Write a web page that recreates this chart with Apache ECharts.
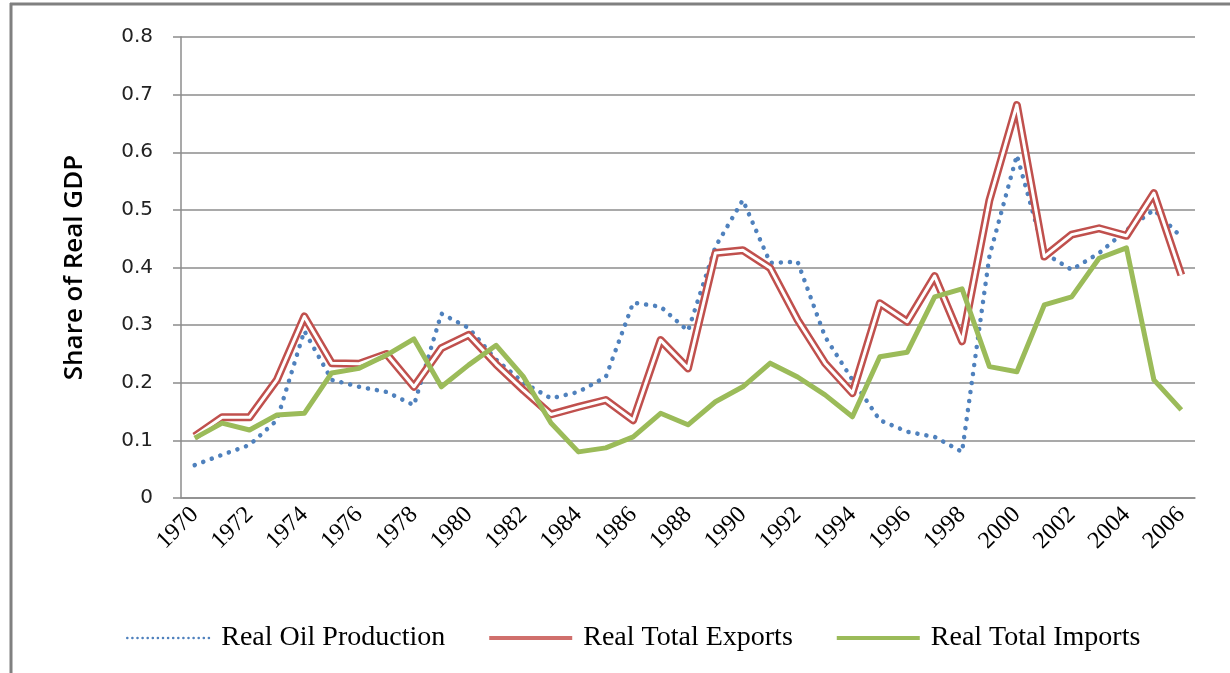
<!DOCTYPE html>
<html>
<head>
<meta charset="utf-8">
<script src="https://cdn.jsdelivr.net/npm/echarts@6/dist/echarts.min.js"></script>
<style>
html,body{margin:0;padding:0;background:#fff;}
#chart{width:1230px;height:673px;}
</style>
</head>
<body>
<div id="chart"></div>
<script>
const years = ['1970','1971','1972','1973','1974','1975','1976','1977','1978','1979','1980','1981','1982','1983','1984','1985','1986','1987','1988','1989','1990','1991','1992','1993','1994','1995','1996','1997','1998','1999','2000','2001','2002','2003','2004','2005','2006'];
const oilProduction = [0.057,0.075,0.092,0.135,0.29,0.205,0.193,0.184,0.161,0.32,0.295,0.24,0.2,0.173,0.184,0.21,0.339,0.332,0.29,0.436,0.517,0.408,0.41,0.28,0.205,0.135,0.115,0.106,0.08,0.42,0.595,0.425,0.396,0.425,0.465,0.5,0.453];
const totalExports = [0.107,0.14,0.14,0.205,0.315,0.234,0.233,0.25,0.193,0.26,0.283,0.232,0.187,0.145,0.158,0.17,0.135,0.274,0.225,0.425,0.43,0.399,0.309,0.234,0.182,0.338,0.306,0.385,0.272,0.517,0.682,0.419,0.457,0.468,0.455,0.529,0.387];
const totalImports = [0.104,0.13,0.118,0.144,0.147,0.217,0.225,0.248,0.276,0.193,0.231,0.265,0.21,0.13,0.08,0.087,0.106,0.147,0.127,0.167,0.193,0.234,0.21,0.179,0.141,0.245,0.253,0.349,0.363,0.228,0.219,0.335,0.349,0.416,0.434,0.205,0.153];
const yTicks = {min:0, max:0.8, interval:0.1};
const names = ['Real Oil Production','Real Total Exports','Real Total Imports'];

const chart = echarts.init(document.getElementById('chart'));
chart.setOption({
  animation:false,
  backgroundColor:'#fff',
  graphic:[
    {type:'line', shape:{x1:10,y1:4,x2:1230,y2:4}, style:{stroke:'#808080', lineWidth:3}},
    {type:'line', shape:{x1:11,y1:3,x2:11,y2:673}, style:{stroke:'#808080', lineWidth:3}}
  ],
  grid:{left:181, right:35, top:37, bottom:175},
  legend:{
    data:[
      {name:names[0], lineStyle:{width:2.5, type:[0.1,5], cap:'round'}},
      {name:names[1], lineStyle:{width:4, color:'#d06f6c'}},
      {name:names[2], lineStyle:{width:4}}
    ],
    bottom:16, left:121, itemWidth:83, itemHeight:14, itemGap:42,
    itemStyle:{opacity:0},
    textStyle:{fontFamily:'Liberation Serif', fontSize:28, color:'#000', padding:[0,0,0,6]}
  },
  xAxis:{
    type:'category', data:years, boundaryGap:true,
    axisLine:{lineStyle:{color:'#8c8c8c', width:1.5}},
    axisTick:{interval:0, length:8, lineStyle:{color:'#8c8c8c', width:1.5}},
    axisLabel:{interval:1, rotate:45, margin:13, fontFamily:'Liberation Serif', fontSize:24, color:'#000'}
  },
  yAxis:{
    type:'value', min:yTicks.min, max:yTicks.max, interval:yTicks.interval,
    name:'Share of Real GDP', nameLocation:'middle', nameGap:93,
    nameTextStyle:{fontFamily:'Open Sans', fontWeight:600, fontSize:26, color:'#000'},
    axisLine:{show:true, lineStyle:{color:'#8c8c8c', width:1.5}},
    axisTick:{show:true, length:8, lineStyle:{color:'#8c8c8c', width:1.5}},
    axisLabel:{margin:28, fontFamily:'DejaVu Sans', fontSize:20, color:'#222', formatter:v=>v===0?'0':v.toFixed(1)},
    splitLine:{lineStyle:{color:'#8c8c8c', width:1.5}}
  },
  series:[
    {name:names[0], type:'line', data:oilProduction, showSymbol:false, symbol:'none',
     lineStyle:{color:'#4f81bd', width:4.5, type:[0.1,9], cap:'round'}, itemStyle:{color:'#4f81bd'}, z:2},
    {name:names[1], type:'line', data:totalExports, showSymbol:false, symbol:'none',
     lineStyle:{color:'#c0504d', width:8, join:'round'}, itemStyle:{color:'#c0504d'}, z:3},
    {name:'exportsInner', type:'line', data:totalExports, showSymbol:false, symbol:'none', silent:true,
     lineStyle:{color:'#ffffff', width:3, join:'round'}, itemStyle:{color:'#fff'}, z:4},
    {name:names[2], type:'line', data:totalImports, showSymbol:false, symbol:'none',
     lineStyle:{color:'#9bbb59', width:5, join:'round'}, itemStyle:{color:'#9bbb59'}, z:5}
  ]
});
</script>
</body>
</html>
